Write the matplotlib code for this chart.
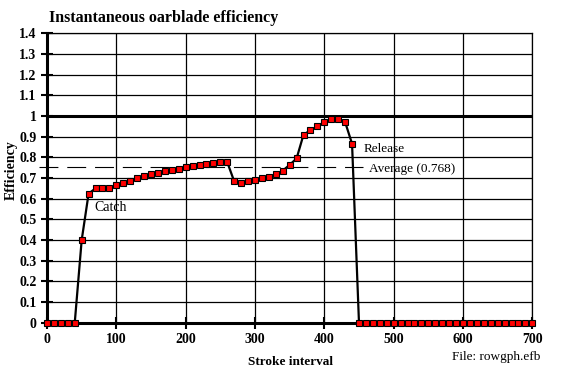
import numpy as np
import matplotlib
matplotlib.use("Agg")
import matplotlib.pyplot as plt

# values
stroke = list(range(0, 710, 10))
efficiency = [0.0, 0.0, 0.0, 0.0, 0.0, 0.40, 0.625, 0.65, 0.65, 0.65,
              0.665, 0.677, 0.688, 0.699, 0.709, 0.718, 0.725, 0.733, 0.740, 0.746,
              0.752, 0.759, 0.764, 0.769, 0.772, 0.777, 0.777, 0.684, 0.678, 0.684,
              0.689, 0.699, 0.704, 0.718, 0.736, 0.764, 0.795, 0.910, 0.931, 0.951,
              0.971, 0.984, 0.987, 0.971, 0.866] + [0.0] * 26
avg_label = "Average (0.768)"
avg_line_y = 0.755
avg_span = [-12, 456]

xticks = list(range(0, 800, 100))
yticks = [round(0.1 * i, 1) for i in range(15)]
ytick_labels = ["0" if v == 0 else ("1" if v == 1 else "{:g}".format(v)) for v in yticks]

plt.rcParams['font.family'] = ['Liberation Serif', 'DejaVu Serif']

fig = plt.figure(figsize=(5.72, 3.71), dpi=100)
ax = fig.add_axes([0.0822, 0.130, 0.8484, 0.780])

ax.set_xlim(0, 700)
ax.set_ylim(0, 1.4)
ax.set_xticks(xticks)
ax.set_yticks(yticks)
ax.set_xticklabels([str(t) for t in xticks], fontweight='bold', fontsize=10)
ax.set_yticklabels(ytick_labels, fontweight='bold', fontsize=10)
ax.grid(True, color='black', lw=0.9)
ax.set_axisbelow(True)
ax.axhline(1.0, color='black', lw=2.2, zorder=1.5)

for s in ['top', 'right']:
    ax.spines[s].set_linewidth(0.9)
for s in ['left', 'bottom']:
    ax.spines[s].set_linewidth(2.2)
ax.tick_params(direction='inout', length=9, width=1.5, pad=3)

ax.plot(stroke, efficiency, color='black', lw=1.6, marker='s', markersize=5,
        markerfacecolor='red', markeredgecolor='black', markeredgewidth=0.8,
        clip_on=False, zorder=5)

avg, = ax.plot(avg_span, [avg_line_y, avg_line_y], color='black', lw=0.8,
               clip_on=False, zorder=3)
avg.set_dashes((17, 8))

ax.text(68, 0.557, "Catch", fontsize=10, va='center', ha='left')
ax.text(456, 0.843, "Release", fontsize=9.5, va='center', ha='left')
ax.text(465, 0.746, avg_label, fontsize=9.5, va='center', ha='left')

fig.text(49 / 572, 1 - 18 / 371, "Instantaneous oarblade efficiency",
         fontweight='bold', fontsize=11.5, va='center', ha='left')
fig.text(11 / 572, 1 - 170 / 371, "Efficiency", fontweight='bold', fontsize=10,
         rotation=90, va='center', ha='center')
fig.text(291 / 572, 1 - 362 / 371, "Stroke interval", fontweight='bold',
         fontsize=9.5, va='center', ha='center')
fig.text(452 / 572, 1 - 357 / 371, "File: rowgph.efb", fontsize=9.5,
         va='center', ha='left')

fig.savefig("out.png", dpi=100)
